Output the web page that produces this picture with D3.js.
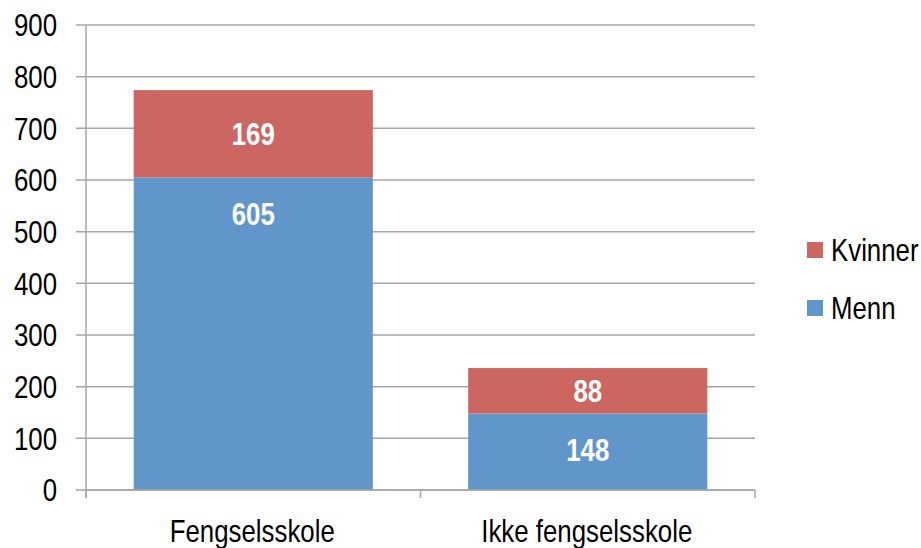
<!DOCTYPE html>
<html><head><meta charset="utf-8">
<script src="https://cdn.jsdelivr.net/npm/d3@7"></script>
<style>body{margin:0;background:#fff}svg{display:block}</style>
</head><body><svg id="c" width="921" height="548"></svg>
<script>
const categories = ["Fengselsskole", "Ikke fengselsskole"];
const menn = [605, 148];
const kvinner = [169, 88];
const seriesNames = ["Menn", "Kvinner"];
const colors = ["#6096CA", "#CC6661"];
const yTicks = [0,100,200,300,400,500,600,700,800,900];

const font = "'Liberation Sans', Arial, sans-serif";
const SX = 0.82, FS = 31.5;
const svg = d3.select("#c");
const L = 86, R = 755, T = 25, B = 490;
const x = d3.scaleBand().domain(categories).range([L, R]).paddingInner(0.285).paddingOuter(0.1425);
const xb = d3.scaleBand().domain(categories).range([L, R]);
const y = d3.scaleLinear().domain([0, 900]).range([B, T]);
const tf = (px, py) => `translate(${px},${py}) scale(${SX},1)`;

svg.append("g").selectAll("line").data(yTicks).join("line")
  .attr("x1", L - 10).attr("x2", R).attr("y1", d => y(d)).attr("y2", d => y(d))
  .attr("stroke", "#A6A6A6").attr("stroke-width", 1.5);
svg.append("line").attr("x1", L).attr("x2", L).attr("y1", T).attr("y2", B + 8)
  .attr("stroke", "#A6A6A6").attr("stroke-width", 1.5);
svg.append("g").selectAll("text").data(yTicks).join("text")
  .attr("transform", d => tf(57, y(d))).attr("dy", "0.36em").attr("text-anchor", "end")
  .attr("font-family", font).attr("font-size", FS).attr("fill", "#000").text(d => d);

const data = categories.map((c, i) => ({cat: c, Menn: menn[i], Kvinner: kvinner[i]}));
const stack = d3.stack().keys(seriesNames)(data);
stack.forEach((s, si) => {
  const g = svg.append("g");
  g.selectAll("rect").data(s).join("rect")
    .attr("x", d => x(d.data.cat)).attr("width", x.bandwidth())
    .attr("y", d => y(d[1])).attr("height", d => y(d[0]) - y(d[1]))
    .attr("fill", colors[si]);
  g.selectAll("text").data(s).join("text")
    .attr("transform", d => tf(x(d.data.cat) + x.bandwidth() / 2,
        si === 0 ? y(d[1]) + 36 : y((d[0] + d[1]) / 2)))
    .attr("dy", "0.36em")
    .attr("text-anchor", "middle").attr("font-family", font).attr("font-weight", "bold")
    .attr("font-size", FS).attr("fill", "#fff").text(d => d[1] - d[0]);
});

svg.append("line").attr("x1", L).attr("x2", R).attr("y1", B).attr("y2", B)
  .attr("stroke", "#A6A6A6").attr("stroke-width", 1.5);
const xt = [L, ...categories.map(c => xb(c) + xb.bandwidth())];
svg.append("g").selectAll("line").data(xt).join("line")
  .attr("x1", d => d).attr("x2", d => d).attr("y1", B).attr("y2", B + 8)
  .attr("stroke", "#A6A6A6").attr("stroke-width", 1.5);
svg.append("g").selectAll("text").data(categories).join("text")
  .attr("transform", d => tf(xb(d) + xb.bandwidth() / 2 - 1, 531)).attr("dy", "0.36em")
  .attr("text-anchor", "middle").attr("font-family", font).attr("font-size", FS)
  .attr("fill", "#000").text(d => d);

const leg = [{n: "Kvinner", c: colors[1], y: 250}, {n: "Menn", c: colors[0], y: 308}];
const lg = svg.append("g").selectAll("g").data(leg).join("g");
lg.append("rect").attr("x", 807).attr("y", d => d.y - 8).attr("width", 16).attr("height", 16).attr("fill", d => d.c);
lg.append("text").attr("transform", d => tf(831, d.y)).attr("dy", "0.36em")
  .attr("font-family", font).attr("font-size", FS).attr("fill", "#000").text(d => d.n);
</script></body></html>
